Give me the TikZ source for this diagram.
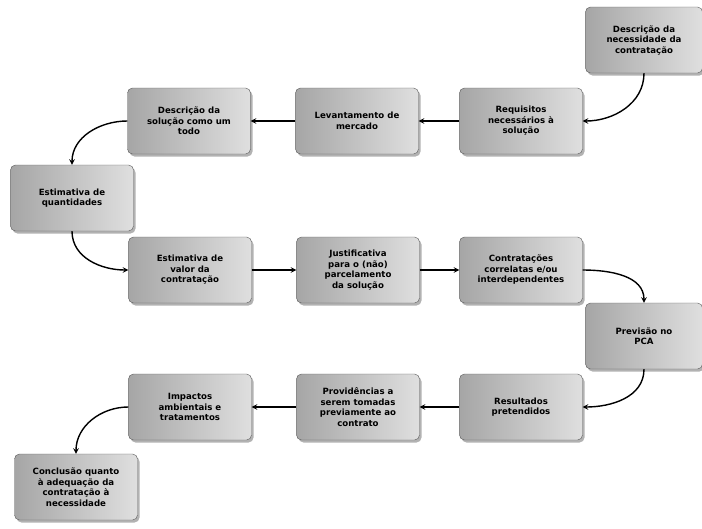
\documentclass[tikz,border=0pt]{standalone}
\usepackage{fontspec}
\setsansfont{DejaVu Sans}
\usepackage{xcolor}
\usetikzlibrary{shadows}

\begin{document}
\begin{tikzpicture}[x=1pt, y=-1pt,
    etapa/.style={rectangle, rounded corners=5pt, draw=gray!70!black, thin,
        left color=gray!70, right color=gray!25,
        drop shadow={shadow xshift=2pt, shadow yshift=-2.5pt, fill=black!60},
        minimum width=123pt, minimum height=66pt, align=center,
        font=\sffamily\bfseries\fontsize{8.6}{10.5}\selectfont},
    seta/.style={->, >=stealth, line width=1.4pt}]
    \useasboundingbox (0,0) rectangle (702,528);
    % Etapas do estudo
    \node[etapa, minimum width=117pt] (nec) at (644,40) {Descrição da\\necessidade da\\contratação};
    \node[etapa] (req) at (521,121) {Requisitos\\necessários à\\solução};
    \node[etapa] (lev) at (357,121) {Levantamento de\\mercado};
    \node[etapa] (sol) at (189,121) {Descrição da\\solução como um\\todo};
    \node[etapa] (qtd) at (72,198) {Estimativa de\\quantidades};
    \node[etapa] (val) at (190,270) {Estimativa de\\valor da\\contratação};
    \node[etapa] (par) at (358,270) {Justificativa\\para o (não)\\parcelamento\\da solução};
    \node[etapa] (cor) at (521,270) {Contratações\\correlatas e/ou\\interdependentes};
    \node[etapa, minimum width=117pt] (pca) at (644,336) {Previsão no\\PCA};
    \node[etapa] (res) at (521,407) {Resultados\\pretendidos};
    \node[etapa] (prov) at (358,407) {Providências a\\serem tomadas\\previamente ao\\contrato};
    \node[etapa] (amb) at (190,407) {Impactos\\ambientais e\\tratamentos};
    \node[etapa] (conc) at (76,487) {Conclusão quanto\\à adequação da\\contratação à\\necessidade};

    % Ligacoes
    \draw[seta] (nec.south) to[out=-90, in=0] (req.east);
    \draw[seta] (req) -- (lev);
    \draw[seta] (lev) -- (sol);
    \draw[seta] (sol.west) to[out=180, in=90] (qtd.north);
    \draw[seta] (qtd.south) to[out=-90, in=180] (val.west);
    \draw[seta] (val) -- (par);
    \draw[seta] (par) -- (cor);
    \draw[seta] (cor.east) to[out=0, in=90] (pca.north);
    \draw[seta] (pca.south) to[out=-90, in=0] (res.east);
    \draw[seta] (res) -- (prov);
    \draw[seta] (prov) -- (amb);
    \draw[seta] (amb.west) to[out=180, in=90] (conc.north);
\end{tikzpicture}
\end{document}
